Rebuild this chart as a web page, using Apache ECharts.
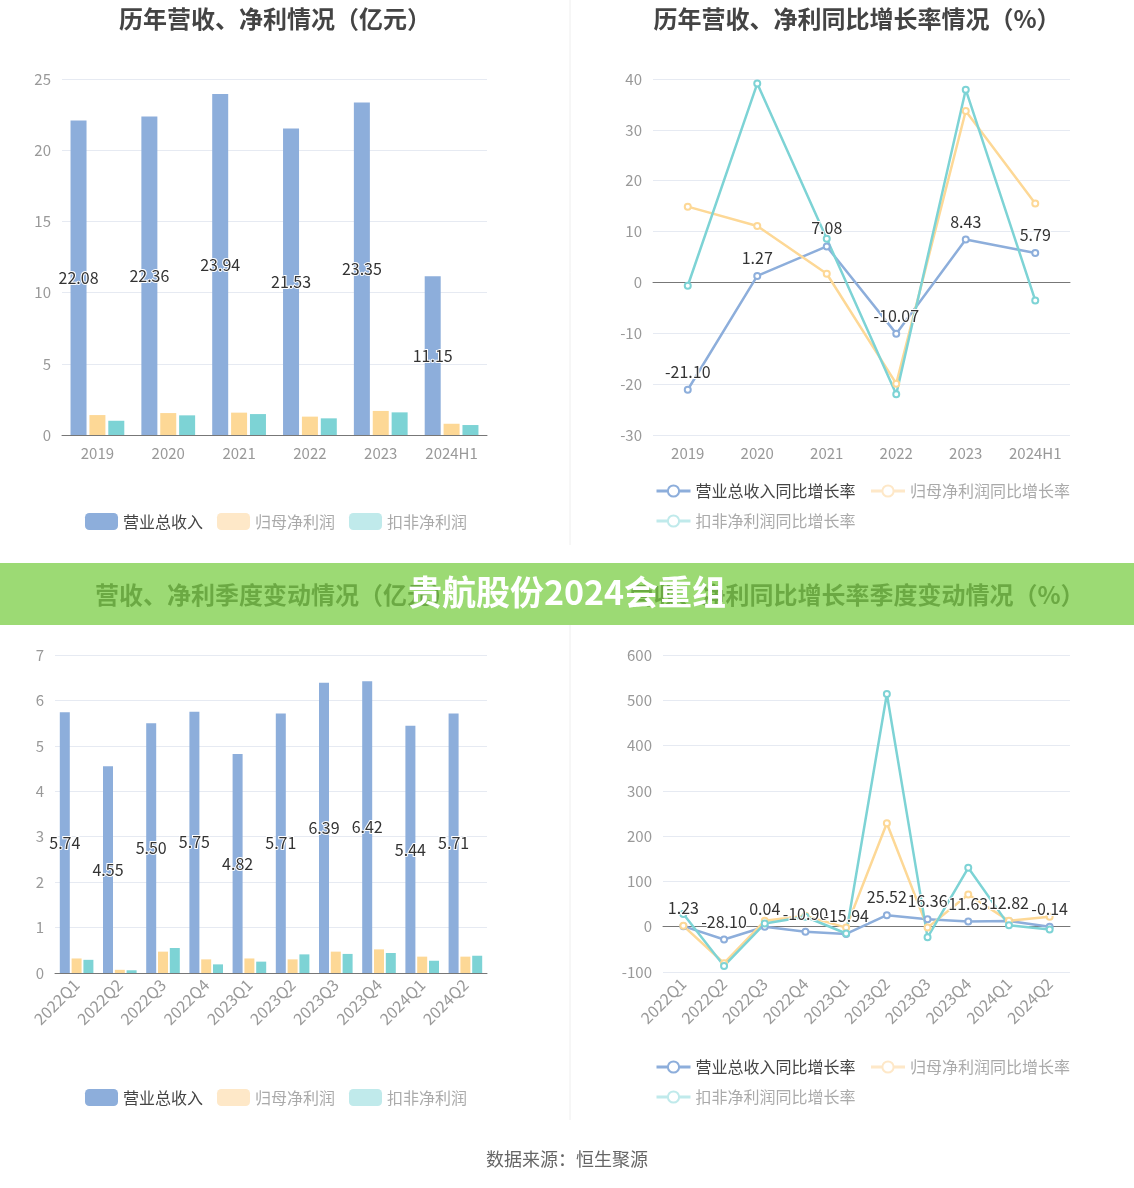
<!DOCTYPE html>
<html>
<head>
<meta charset="utf-8">
<title>贵航股份</title>
<script src="https://cdn.jsdelivr.net/npm/echarts@6/dist/echarts.min.js"></script>
<style>
html, body { margin: 0; padding: 0; background: #fff; }
#main { width: 1134px; height: 1188px; }
</style>
</head>
<body>
<div id="main"></div>
<script>
// 年度
var years = ['2019', '2020', '2021', '2022', '2023', '2024H1']
var yearRevenue = [22.08, 22.36, 23.94, 21.53, 23.35, 11.15]
var yearNetProfit = [1.40, 1.54, 1.57, 1.29, 1.69, 0.79]
var yearDeductProfit = [1.00, 1.38, 1.47, 1.17, 1.59, 0.70]
var yearRevenueGrowth = [-21.10, 1.27, 7.08, -10.07, 8.43, 5.79]
var yearNetGrowth = [14.9, 11.1, 1.7, -19.9, 33.7, 15.5]
var yearDeductGrowth = [-0.65, 39.1, 8.6, -22.0, 37.9, -3.55]

// 季度
var quarters = ['2022Q1', '2022Q2', '2022Q3', '2022Q4', '2023Q1', '2023Q2', '2023Q3', '2023Q4', '2024Q1', '2024Q2']
var qRevenue = [5.74, 4.55, 5.50, 5.75, 4.82, 5.71, 6.39, 6.42, 5.44, 5.71]
var qNetProfit = [0.32, 0.07, 0.47, 0.30, 0.32, 0.30, 0.47, 0.52, 0.36, 0.36]
var qDeductProfit = [0.29, 0.06, 0.55, 0.19, 0.25, 0.41, 0.42, 0.44, 0.27, 0.38]
var qRevenueGrowth = [1.23, -28.10, 0.04, -10.90, -15.94, 25.52, 16.36, 11.63, 12.82, -0.14]
var qNetGrowth = [2, -80.6, 13, 24, -2, 228.6, -2, 71, 13, 22]
var qDeductGrowth = [28, -86.6, 7, 22, -15, 514, -23.5, 130, 3, -6]

var FONT = '"Noto Sans CJK SC", sans-serif'
var BLUE = '#8daedb'
var ORANGE = '#fdd896'
var TEAL = '#7dd3d5'
var PALE_ORANGE = '#fee8c8'
var PALE_TEAL = '#c0eaeb'

var chart = echarts.init(document.getElementById('main'))

function titleOf (text, x, y) {
    return {
        text: text,
        left: x,
        top: y,
        textAlign: 'center',
        textStyle: { fontFamily: FONT, fontSize: 24, fontWeight: 'bold', color: '#444' }
    }
}

function catAxis (idx, data, rotate) {
    return {
        type: 'category',
        gridIndex: idx,
        data: data,
        axisLine: { lineStyle: { color: '#777' } },
        axisTick: { alignWithLabel: true, lineStyle: { color: '#777' } },
        axisLabel: {
            color: '#999',
            fontSize: rotate ? 16 : 15,
            fontFamily: FONT,
            margin: rotate ? 9 : 11,
            rotate: rotate || 0,
            interval: 0
        }
    }
}

function valAxis (idx, min, max, step) {
    return {
        type: 'value',
        gridIndex: idx,
        min: min,
        max: max,
        interval: step,
        axisLine: { show: false },
        axisTick: { show: false },
        splitLine: { lineStyle: { color: '#e6eaf2' } },
        axisLabel: { color: '#999', fontSize: 15, fontFamily: FONT, margin: 11 }
    }
}

var blueLabel = {
    show: true,
    color: '#333',
    fontSize: 16,
    fontFamily: FONT,
    textBorderColor: '#fff',
    textBorderWidth: 2,
    formatter: function (p) { return p.value.toFixed(2) }
}

function barSeries (name, data, color, idx, width, withLabel) {
    return {
        name: name,
        type: 'bar',
        xAxisIndex: idx,
        yAxisIndex: idx,
        data: data,
        barWidth: width,
        barGap: '18%',
        itemStyle: { color: color },
        label: withLabel ? Object.assign({ position: 'inside' }, blueLabel) : { show: false }
    }
}

function lineSeries (name, data, color, idx, withLabel) {
    return {
        name: name,
        type: 'line',
        xAxisIndex: idx,
        yAxisIndex: idx,
        data: data,
        symbol: 'emptyCircle',
        symbolSize: 6,
        lineStyle: { color: color, width: 2.5 },
        itemStyle: { color: color, borderWidth: 2 },
        label: withLabel ? Object.assign({ position: 'top', distance: 6 }, blueLabel) : { show: false }
    }
}

function barLegend (left, top) {
    return {
        left: left,
        top: top,
        itemWidth: 33,
        itemHeight: 17,
        itemGap: 14,
        icon: 'roundRect',
        textStyle: { fontFamily: FONT, fontSize: 16, color: '#aaa' },
        data: [
            { name: '营业总收入', itemStyle: { color: BLUE }, textStyle: { color: '#444' } },
            { name: '归母净利润', itemStyle: { color: PALE_ORANGE } },
            { name: '扣非净利润', itemStyle: { color: PALE_TEAL } }
        ]
    }
}

function lineItem (name, color, textColor) {
    var item = {
        name: name,
        itemStyle: { color: color, borderColor: color, borderWidth: 2.5 },
        lineStyle: { color: color, width: 3 }
    }
    if (textColor) item.textStyle = { color: textColor }
    return item
}

function lineLegend (left, top) {
    return {
        left: left,
        top: top,
        width: 440,
        itemWidth: 34,
        itemHeight: 14,
        itemGap: 14,
        textStyle: { fontFamily: FONT, fontSize: 16, color: '#aaa' },
        data: [
            lineItem('营业总收入同比增长率', BLUE, '#444'),
            lineItem('归母净利润同比增长率', PALE_ORANGE),
            lineItem('扣非净利润同比增长率', PALE_TEAL)
        ]
    }
}

var option = {
    animation: false,
    backgroundColor: '#fff',
    title: [
        titleOf('历年营收、净利情况（亿元）', 270, 2),
        titleOf('历年营收、净利同比增长率情况（%）', 852, 2),
        titleOf('营收、净利季度变动情况（亿元）', 270, 578),
        titleOf('营收、净利同比增长率季度变动情况（%）', 852, 578)
    ],
    legend: [
        barLegend(80, 508),
        lineLegend(650, 478),
        barLegend(80, 1084),
        lineLegend(650, 1054)
    ],
    grid: [
        { left: 62, width: 425, top: 79, height: 356 },
        { left: 653, width: 417, top: 79, height: 356 },
        { left: 55, width: 432, top: 655, height: 318 },
        { left: 663, width: 407, top: 655, height: 317 }
    ],
    xAxis: [
        catAxis(0, years),
        catAxis(1, years),
        catAxis(2, quarters, 45),
        catAxis(3, quarters, 45)
    ],
    yAxis: [
        valAxis(0, 0, 25, 5),
        valAxis(1, -30, 40, 10),
        valAxis(2, 0, 7, 1),
        valAxis(3, -100, 600, 100)
    ],
    series: [
        barSeries('营业总收入', yearRevenue, BLUE, 0, 16, true),
        barSeries('归母净利润', yearNetProfit, ORANGE, 0, 16, false),
        barSeries('扣非净利润', yearDeductProfit, TEAL, 0, 16, false),
        lineSeries('营业总收入同比增长率', yearRevenueGrowth, BLUE, 1, true),
        lineSeries('归母净利润同比增长率', yearNetGrowth, ORANGE, 1, false),
        lineSeries('扣非净利润同比增长率', yearDeductGrowth, TEAL, 1, false),
        barSeries('营业总收入', qRevenue, BLUE, 2, 10, true),
        barSeries('归母净利润', qNetProfit, ORANGE, 2, 10, false),
        barSeries('扣非净利润', qDeductProfit, TEAL, 2, 10, false),
        lineSeries('营业总收入同比增长率', qRevenueGrowth, BLUE, 3, true),
        lineSeries('归母净利润同比增长率', qNetGrowth, ORANGE, 3, false),
        lineSeries('扣非净利润同比增长率', qDeductGrowth, TEAL, 3, false)
    ],
    graphic: [
        { type: 'line', shape: { x1: 570, y1: 0, x2: 570, y2: 545 }, style: { stroke: '#eee', lineWidth: 1 }, z: 0 },
        { type: 'line', shape: { x1: 570, y1: 625, x2: 570, y2: 1120 }, style: { stroke: '#eee', lineWidth: 1 }, z: 0 },
        { type: 'rect', shape: { x: 0, y: 563, width: 1134, height: 62 }, style: { fill: 'rgba(122,205,68,0.74)' }, z: 100 },
        {
            type: 'text', left: 'center', top: 575, z: 101,
            style: { text: '贵航股份2024会重组', fill: '#fff', font: 'bold 34px "Noto Sans CJK SC", sans-serif' }
        },
        {
            type: 'text', left: 'center', top: 1150, z: 101,
            style: { text: '数据来源：恒生聚源', fill: '#666', font: '18px "Noto Sans CJK SC", sans-serif' }
        }
    ]
}

chart.setOption(option)
</script>
</body>
</html>
